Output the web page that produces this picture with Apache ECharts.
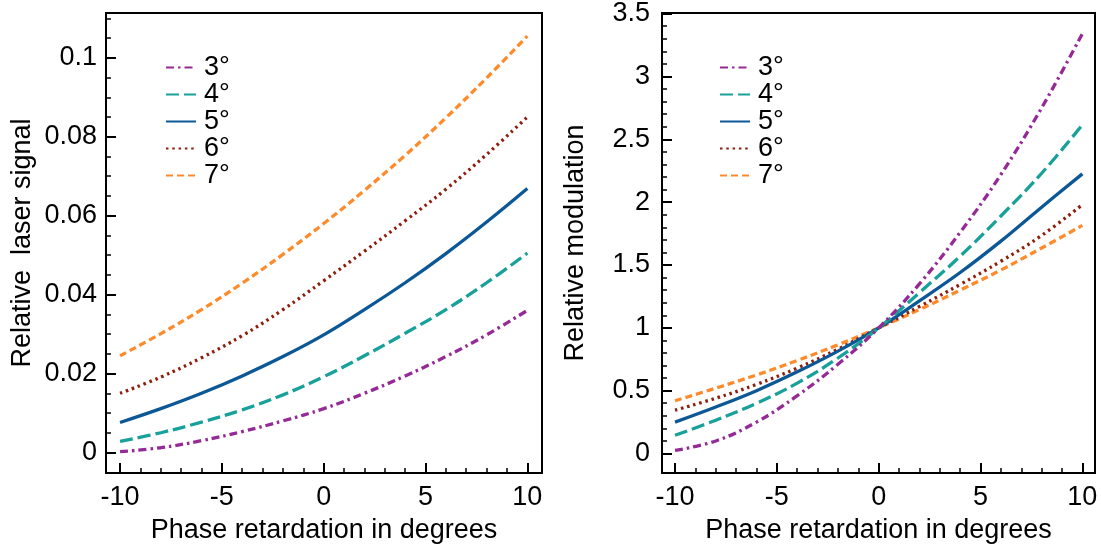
<!DOCTYPE html>
<html>
<head>
<meta charset="utf-8">
<script src="https://cdn.jsdelivr.net/npm/echarts@6/dist/echarts.min.js"></script>
<style>
html,body{margin:0;padding:0;background:#fff;}
#chart{width:1101px;height:550px;}
</style>
</head>
<body>
<div id="chart"></div>
<script>
// ---- data ----
const seriesNames = ['3°', '4°', '5°', '6°', '7°'];
const phase = [-10, -8, -6, -4, -2, 0, 2, 4, 6, 8, 10];

// Left panel: Relative laser signal
const signal3 = [0.0002, 0.0012, 0.0030, 0.0053, 0.0080, 0.0111, 0.0150, 0.0194, 0.0243, 0.0298, 0.0360];
const signal4 = [0.0028, 0.0050, 0.0077, 0.0108, 0.0146, 0.0192, 0.0245, 0.0302, 0.0362, 0.0430, 0.0505];
const signal5 = [0.0076, 0.0111, 0.0150, 0.0194, 0.0243, 0.0298, 0.0362, 0.0430, 0.0504, 0.0584, 0.0669];
const signal6 = [0.0150, 0.0191, 0.0240, 0.0296, 0.0362, 0.0435, 0.0510, 0.0587, 0.0667, 0.0755, 0.0850];
const signal7 = [0.0245, 0.0301, 0.0362, 0.0429, 0.0502, 0.0580, 0.0664, 0.0753, 0.0848, 0.0949, 0.1055];

// Right panel: Relative modulation
const mod3 = [0.025, 0.10, 0.25, 0.46, 0.71, 1.0, 1.35, 1.76, 2.22, 2.75, 3.34];
const mod4 = [0.145, 0.265, 0.40, 0.56, 0.76, 1.0, 1.28, 1.57, 1.89, 2.23, 2.615];
const mod5 = [0.25, 0.37, 0.50, 0.65, 0.815, 1.0, 1.215, 1.44, 1.69, 1.96, 2.225];
const mod6 = [0.345, 0.44, 0.55, 0.68, 0.83, 1.0, 1.17, 1.345, 1.53, 1.735, 1.98];
const mod7 = [0.42, 0.52, 0.625, 0.74, 0.865, 1.0, 1.145, 1.30, 1.46, 1.635, 1.815];

// Tick labels / tick positions
const xTicks = [-10, -5, 0, 5, 10];
const xMinorTicks = [-9, -8, -7, -6, -4, -3, -2, -1, 1, 2, 3, 4, 6, 7, 8, 9];
const leftYTicks = [0, 0.02, 0.04, 0.06, 0.08, 0.1];
const leftYMinorTicks = [0.005, 0.01, 0.015, 0.025, 0.03, 0.035, 0.045, 0.05, 0.055, 0.065, 0.07, 0.075, 0.085, 0.09, 0.095, 0.105, 0.11];
const rightYTicks = [0, 0.5, 1, 1.5, 2, 2.5, 3, 3.5];
const rightYMinorTicks = [0.1, 0.2, 0.3, 0.4, 0.6, 0.7, 0.8, 0.9, 1.1, 1.2, 1.3, 1.4, 1.6, 1.7, 1.8, 1.9, 2.1, 2.2, 2.3, 2.4, 2.6, 2.7, 2.8, 2.9, 3.1, 3.2, 3.3, 3.4];

const xTitle = 'Phase retardation in degrees';
const leftYTitle = 'Relative  laser signal';
const rightYTitle = 'Relative modulation';

// ---- styles ----
const colors = ['#952a96', '#18a09a', '#0c5896', '#8e1d0c', '#fd8b2c'];
const dashes = [[8, 4, 2.5, 4], [13, 5], 'solid', [2.5, 3.8], [7, 4]];
const widths = [3.3, 3.3, 3.3, 3.3, 3.3];
const FONT = 'Liberation Sans';
const FS = 27;

const leftData = [signal3, signal4, signal5, signal6, signal7];
const rightData = [mod3, mod4, mod5, mod6, mod7];

function pairs(vals) { return phase.map((x, i) => [x, vals[i]]); }

function makeSeries(dataSets, axisIdx) {
  return dataSets.map((vals, i) => ({
    name: seriesNames[i],
    type: 'line',
    xAxisIndex: axisIdx,
    yAxisIndex: axisIdx,
    data: pairs(vals),
    smooth: 0.4,
    symbol: 'none',
    showSymbol: false,
    silent: true,
    animation: false,
    z: 10 - i,
    lineStyle: { color: colors[i], width: widths[i], type: dashes[i], cap: 'butt' },
    itemStyle: { color: colors[i] }
  }));
}

const noLine = { show: false, onZero: false };

function majorX(grid, min, max) {
  return {
    type: 'value', gridIndex: grid, min: min, max: max, position: 'bottom',
    name: xTitle, nameLocation: 'middle', nameGap: 44,
    nameTextStyle: { fontFamily: FONT, fontSize: FS, color: '#000' },
    axisLine: noLine,
    splitLine: { show: false },
    axisTick: { show: true, inside: true, length: 10, lineStyle: { color: '#000', width: 2 }, customValues: xTicks },
    axisLabel: { show: true, margin: 11, fontFamily: FONT, fontSize: FS, color: '#000', customValues: xTicks }
  };
}
function minorX(grid, min, max) {
  return {
    type: 'value', gridIndex: grid, min: min, max: max, position: 'bottom', offset: 0,
    axisLine: noLine, splitLine: { show: false },
    axisTick: { show: true, inside: true, length: 5, lineStyle: { color: '#000', width: 1.5 }, customValues: xMinorTicks },
    axisLabel: { show: false }
  };
}
function majorY(grid, min, max, ticks, title, gap, margin) {
  return {
    type: 'value', gridIndex: grid, min: min, max: max, position: 'left',
    name: title, nameLocation: 'middle', nameGap: gap, nameRotate: 90,
    nameTextStyle: { fontFamily: FONT, fontSize: FS, color: '#000' },
    axisLine: noLine, splitLine: { show: false },
    axisTick: { show: true, inside: true, length: 10, lineStyle: { color: '#000', width: 2 }, customValues: ticks },
    axisLabel: { show: true, margin: margin, fontFamily: FONT, fontSize: FS, color: '#000', customValues: ticks }
  };
}
function minorY(grid, min, max, ticks) {
  return {
    type: 'value', gridIndex: grid, min: min, max: max, position: 'left', offset: 0,
    axisLine: noLine, splitLine: { show: false },
    axisTick: { show: true, inside: true, length: 5, lineStyle: { color: '#000', width: 1.5 }, customValues: ticks },
    axisLabel: { show: false }
  };
}

function legend(left) {
  return {
    data: seriesNames, orient: 'vertical', left: left, top: 54,
    padding: 0,
    itemWidth: 30, itemHeight: 12, itemGap: 0,
    selectedMode: false,
    itemStyle: { opacity: 0, borderWidth: 0 },
    textStyle: { fontFamily: FONT, fontSize: FS, color: '#000', lineHeight: 26.3, padding: [0, 0, 0, 3] }
  };
}

const chart = echarts.init(document.getElementById('chart'), null, { renderer: 'canvas' });
chart.setOption({
  animation: false,
  backgroundColor: '#fff',
  grid: [
    { left: 106, top: 13, width: 436, height: 460, show: true, borderColor: '#000', borderWidth: 2, backgroundColor: 'transparent' },
    { left: 662, top: 13, width: 433, height: 460, show: true, borderColor: '#000', borderWidth: 2, backgroundColor: 'transparent' }
  ],
  legend: [legend(165), legend(719)],
  xAxis: [
    majorX(0, -10.69, 10.72),
    majorX(1, -10.64, 10.62),
    minorX(0, -10.69, 10.72),
    minorX(1, -10.64, 10.62)
  ],
  yAxis: [
    majorY(0, -0.0052, 0.11135, leftYTicks, leftYTitle, 70, 9),
    majorY(1, -0.155, 3.505, rightYTicks, rightYTitle, 73, 12),
    minorY(0, -0.0052, 0.11135, leftYMinorTicks),
    minorY(1, -0.155, 3.505, rightYMinorTicks)
  ],
  series: makeSeries(leftData, 0).concat(makeSeries(rightData, 1))
});
</script>
</body>
</html>
